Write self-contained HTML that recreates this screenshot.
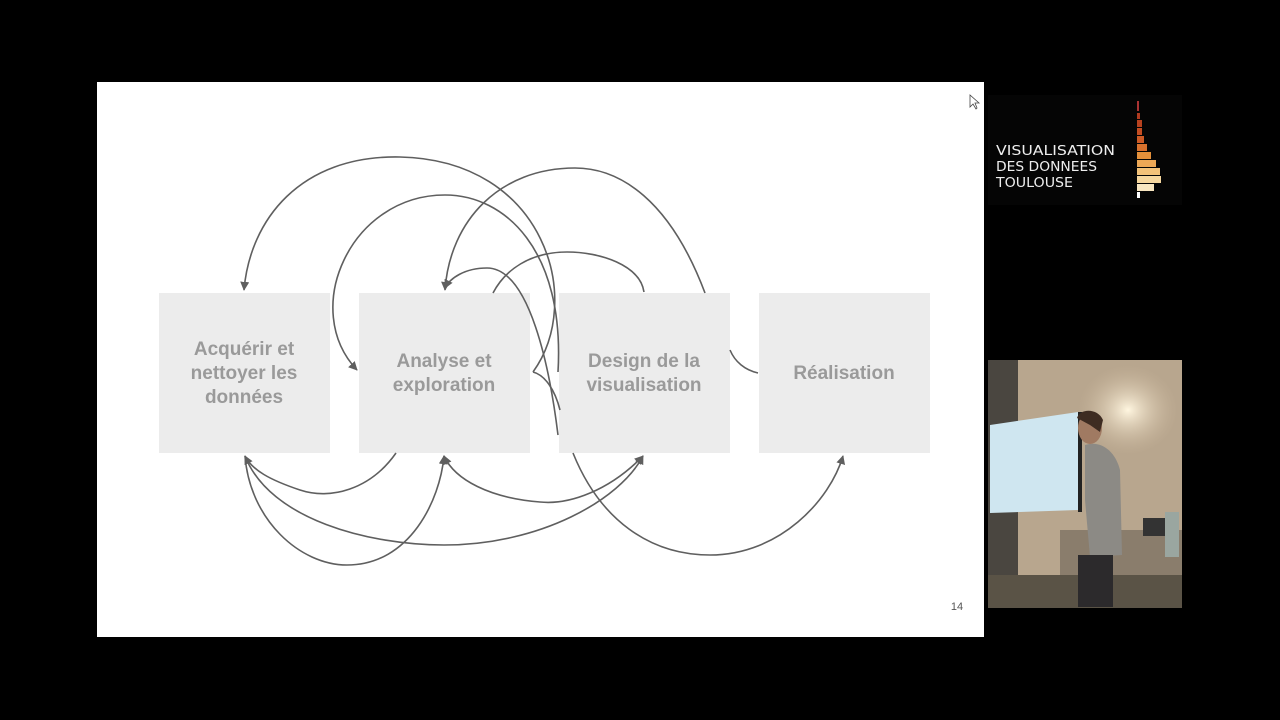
<!DOCTYPE html>
<html><head><meta charset="utf-8"><style>
html,body{margin:0;padding:0;background:#000;width:1280px;height:720px;overflow:hidden}
svg{display:block}
</style></head><body>
<svg width="1280" height="720" viewBox="0 0 1280 720" xmlns="http://www.w3.org/2000/svg">
<defs>
<marker id="ah" viewBox="0 0 10 10" refX="9" refY="5" markerWidth="9" markerHeight="9" orient="auto-start-reverse" markerUnits="userSpaceOnUse">
<path d="M0,0 L10,5 L0,10 z" fill="#5f5f5f"/></marker>
<radialGradient id="lamp" cx="0.5" cy="0.5" r="0.5"><stop offset="0" stop-color="#fff6e0"/><stop offset="1" stop-color="#cbb79c" stop-opacity="0"/></radialGradient>
</defs>
<rect width="1280" height="720" fill="#000"/>
<rect x="97" y="82" width="887" height="555" fill="#fff"/>
<g fill="#ececec">
<rect x="159" y="293" width="171" height="160"/>
<rect x="359" y="293" width="171" height="160"/>
<rect x="559" y="293" width="171" height="160"/>
<rect x="759" y="293" width="171" height="160"/>
</g>
<g font-family="'Liberation Sans',sans-serif" font-weight="bold" font-size="19" fill="#9a9a9a" text-anchor="middle">
<text x="244" y="355">Acquérir et</text>
<text x="244" y="379">nettoyer les</text>
<text x="244" y="403">données</text>
<text x="444" y="367">Analyse et</text>
<text x="444" y="391">exploration</text>
<text x="644" y="367">Design de la</text>
<text x="644" y="391">visualisation</text>
<text x="844" y="379">Réalisation</text>
</g>
<text x="957" y="610" font-family="'Liberation Sans',sans-serif" font-size="11" fill="#555" text-anchor="middle">14</text>
<g fill="none" stroke="#5f5f5f" stroke-width="1.6">
<path d="M533,372 C585,300 545,160 400,157 C300,155 250,220 244,290" marker-end="url(#ah)"/>
<path d="M558,372 C565,250 505,195 445,195 C350,195 300,310 357,370" marker-end="url(#ah)"/>
<path d="M705,293 C670,200 620,168 575,168 C500,168 450,220 445,290" marker-end="url(#ah)"/>
<path d="M644,292 C640,265 600,252 567,252 C530,252 505,270 493,293"/>
<path d="M558,435 C550,370 530,268 487,268 C465,268 450,278 445,288" marker-end="url(#ah)"/>
<path d="M533,372 C545,375 555,390 560,410"/>
<path d="M730,350 C735,362 745,370 758,373"/>
<path d="M396,453 C370,490 330,500 300,490 C270,480 252,470 245,456" marker-end="url(#ah)"/>
<path d="M643,456 C610,490 570,505 540,502 C490,498 455,480 444,456" marker-end="url(#ah)" marker-start="url(#ah)"/>
<path d="M245,456 C270,520 370,545 444,545 C540,545 620,500 643,456" marker-end="url(#ah)"/>
<path d="M245,456 C250,520 300,565 347,565 C410,565 440,500 444,456" marker-end="url(#ah)"/>
<path d="M573,453 C600,520 650,555 710,555 C780,555 830,500 843,456" marker-end="url(#ah)"/>
</g>
<path d="M970,95 L970,107 L973,104 L976,109 L977,108 L975,103 L979,103 z" fill="#fff" stroke="#444" stroke-width="0.8"/>
<rect x="988" y="95" width="194" height="110" fill="#050505"/>
<g font-family="'DejaVu Sans',sans-serif" font-size="13.5" fill="#eee">
<text x="996" y="155" textLength="119" lengthAdjust="spacingAndGlyphs">VISUALISATION</text>
<text x="996" y="171" textLength="101" lengthAdjust="spacingAndGlyphs">DES DONNEES</text>
<text x="996" y="187" textLength="77" lengthAdjust="spacingAndGlyphs">TOULOUSE</text>
</g>
<g>
<rect x="1137" y="101" width="2" height="10" fill="#a33"/>
<rect x="1137" y="113" width="3" height="6" fill="#b03a1f"/>
<rect x="1137" y="120" width="5" height="7" fill="#b8421f"/>
<rect x="1137" y="128" width="5" height="7" fill="#c44d22"/>
<rect x="1137" y="136" width="7" height="7" fill="#cc5a25"/>
<rect x="1137" y="144" width="10" height="7" fill="#d8712d"/>
<rect x="1137" y="152" width="14" height="7" fill="#e4903a"/>
<rect x="1137" y="160" width="19" height="7" fill="#eda856"/>
<rect x="1137" y="168" width="23" height="7" fill="#f3c279"/>
<rect x="1137" y="176" width="24" height="7" fill="#f6d79e"/>
<rect x="1137" y="184" width="17" height="7" fill="#f8e6c0"/>
<rect x="1137" y="192" width="3" height="6" fill="#fff"/>
</g>
<rect x="988" y="360" width="194" height="248" fill="#b8a68e"/>
<rect x="988" y="360" width="30" height="248" fill="#4a4640"/>
<ellipse cx="1128" cy="410" rx="50" ry="45" fill="url(#lamp)"/>
<rect x="1060" y="530" width="122" height="78" fill="#8a7d6c"/>
<rect x="988" y="575" width="194" height="33" fill="#5a5346"/>
<polygon points="990,425 1078,412 1078,510 990,513" fill="#cfe6f0"/>
<rect x="1078" y="412" width="4" height="100" fill="#222"/>
<path d="M1085,445 C1100,440 1115,450 1120,470 L1122,555 L1090,557 L1085,500 z" fill="#8c8a85"/>
<rect x="1078" y="555" width="35" height="52" fill="#2c2a2c"/>
<ellipse cx="1090" cy="428" rx="12" ry="16" fill="#a07a62"/>
<path d="M1077,418 C1080,408 1098,408 1103,420 L1100,432 L1090,425 z" fill="#3e2c22"/>
<rect x="1143" y="518" width="24" height="18" fill="#333"/>
<rect x="1165" y="512" width="14" height="45" fill="#9aa6a0"/>
</svg>
</body></html>
